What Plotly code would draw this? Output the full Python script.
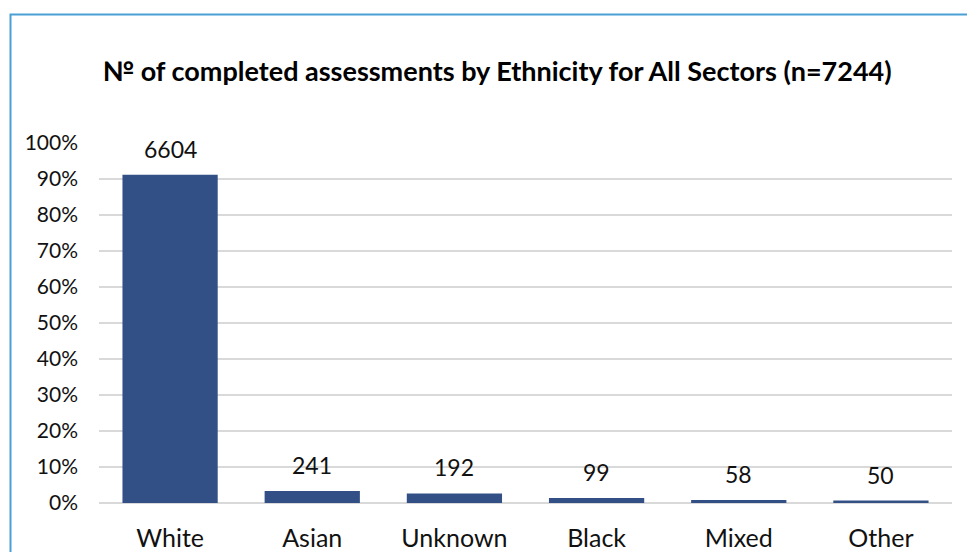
import plotly.graph_objects as go

# Completed assessments by ethnicity, all sectors
categories = ["White", "Asian", "Unknown", "Black", "Mixed", "Other"]
counts = [6604, 241, 192, 99, 58, 50]
total = sum(counts)  # 7244
shares = [c / total for c in counts]

y_ticks = [i / 10 for i in range(11)]

FONT = "Lato"
BAR_COLOR = "#325086"
GRID = "#d9d9d9"
TEXT = "#111111"

fig = go.Figure(
    go.Bar(
        x=categories,
        y=shares,
        marker=dict(color=BAR_COLOR, line=dict(width=0)),
        width=0.67,
        hoverinfo="skip",
    )
)

# count labels above each bar
for cat, share, cnt in zip(categories, shares, counts):
    fig.add_annotation(
        x=cat, y=share, text=str(cnt), showarrow=False,
        yanchor="bottom", yshift=10,
        font=dict(family=FONT, size=23, color=TEXT),
    )

# outer chart frame
fig.add_shape(
    type="rect", xref="paper", yref="paper",
    x0=-88.5 / 853, x1=1.2, y0=-0.3, y1=(503 - 14.5) / 360,
    line=dict(color="#4a9fd5", width=2), fillcolor="rgba(0,0,0,0)",
    layer="below",
)

fig.update_layout(
    width=967, height=552,
    margin=dict(l=99, r=15, t=143, b=49, autoexpand=False),
    paper_bgcolor="white", plot_bgcolor="white",
    showlegend=False,
    title=dict(
        text="<b>№ of completed assessments by Ethnicity for All Sectors (n=7244)</b>",
        x=497 / 967, xanchor="center", y=1 - 72 / 552, yanchor="middle",
        font=dict(family=FONT, size=27, color="#000000"),
    ),
    bargap=0.33,
)

fig.update_xaxes(
    showgrid=False, showline=False, ticks="", automargin=False,
    tickfont=dict(family=FONT, size=25, color=TEXT),
    ticklabelstandoff=18,
)
fig.update_yaxes(
    range=[0, 1.0], tickvals=y_ticks, tickformat=".0%", automargin=False,
    showgrid=True, gridcolor=GRID, gridwidth=1.5,
    zeroline=True, zerolinecolor=GRID, zerolinewidth=1.5,
    showline=False, ticks="",
    tickfont=dict(family=FONT, size=21, color=TEXT),
    ticklabelstandoff=20,
)

fig.write_html("out.html")
